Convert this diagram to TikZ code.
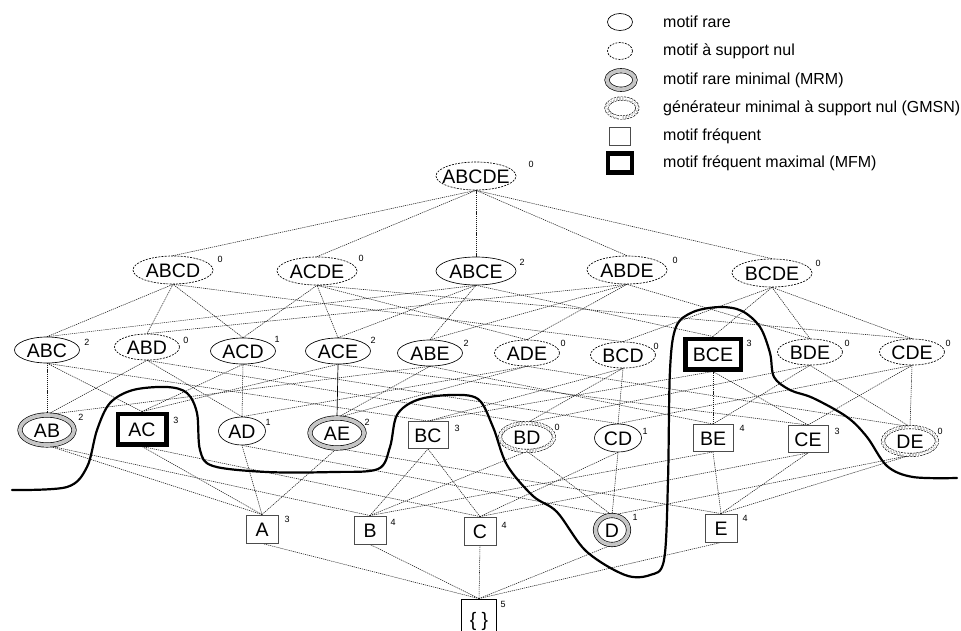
\documentclass[tikz,border=0pt]{standalone}
\usepackage{fontspec}
\setmainfont{Liberation Sans}
\usetikzlibrary{shapes.geometric,backgrounds}
\newcommand{\mylbl}[1]{\makebox[0pt]{\raisebox{-0.36em}[0pt][0pt]{#1}}}
\begin{document}
\begin{tikzpicture}[x=1pt,y=-1pt,
  lat/.style={inner sep=0pt, font=\fontsize{19.5}{19.5}\selectfont},
  rare/.style={lat, ellipse, draw, line width=0.65pt},
  nul/.style={lat, ellipse, draw, line width=0.65pt, dash pattern=on 2pt off 1.2pt},
  mrm/.style={lat, ellipse, draw, line width=0.65pt, double=gray!45, double distance=3.8pt},
  gmsn/.style={lat, ellipse, draw, line width=0.6pt, dash pattern=on 2pt off 1.2pt, double=white, double distance=2.8pt},
  freq/.style={lat, rectangle, draw=black!70, line width=0.9pt},
  mfm/.style={lat, rectangle, draw, line width=4.5pt},
  sz4/.style={minimum width=80pt, minimum height=28pt},
  sz3/.style={minimum width=65pt, minimum height=26pt},
  sz2/.style={minimum width=47pt, minimum height=28pt},
  szm/.style={minimum width=54pt, minimum height=30pt},
  szg/.style={minimum width=54pt, minimum height=28pt},
  szf/.style={minimum width=40pt, minimum height=27pt},
  sz1/.style={minimum width=32pt, minimum height=28pt},
  sup/.style={inner sep=0pt, font=\fontsize{9}{9}\selectfont},
  edge/.style={line width=0.55pt, black!90, dash pattern=on 1.2pt off 0.9pt},
  solidedge/.style={line width=0.7pt, black},
  border/.style={line width=2.2pt, line join=round, line cap=round},
  legt/.style={anchor=west, inner sep=0pt, font=\fontsize{16}{16}\selectfont}
]
\useasboundingbox (0,0) rectangle (961,630);

% ---- level 5
\node[nul,sz4] (ABCDE) at (476,176) {\mylbl{ABCDE}};
\node[sup] (sABCDE) at (531,164) {0};
% ---- level 4
\node[nul,sz4] (ABCD) at (173,270) {\mylbl{ABCD}};
\node[sup] (sABCD) at (220,259) {0};
\node[nul,sz4] (ACDE) at (317,271) {\mylbl{ACDE}};
\node[sup] (sACDE) at (361,258) {0};
\node[rare,sz4] (ABCE) at (476,271) {\mylbl{ABCE}};
\node[sup] (sABCE) at (522,262) {2};
\node[nul,sz4] (ABDE) at (627,270) {\mylbl{ABDE}};
\node[sup] (sABDE) at (675,260) {0};
\node[nul,sz4] (BCDE) at (772,273) {\mylbl{BCDE}};
\node[sup] (sBCDE) at (818,263) {0};
% ---- level 3
\node[rare,sz3] (ABC) at (47,350) {\mylbl{ABC}};
\node[sup] (sABC) at (87,342) {2};
\node[nul,sz3] (ABD) at (147,347) {\mylbl{ABD}};
\node[sup] (sABD) at (186,340) {0};
\node[rare,sz3] (ACD) at (243,351) {\mylbl{ACD}};
\node[sup] (sACD) at (277,339) {1};
\node[rare,sz3] (ACE) at (338,351) {\mylbl{ACE}};
\node[sup] (sACE) at (373,340) {2};
\node[rare,sz3] (ABE) at (430,353) {\mylbl{ABE}};
\node[sup] (sABE) at (466,343) {2};
\node[nul,sz3] (ADE) at (527,353) {\mylbl{ADE}};
\node[sup] (sADE) at (563,343) {0};
\node[nul,sz3] (BCD) at (623,355) {\mylbl{BCD}};
\node[sup] (sBCD) at (656,346) {0};
\node[mfm,minimum width=55.5pt,minimum height=30.5pt] (BCE) at (713,354) {\mylbl{BCE}};
\node[sup] (sBCE) at (749,343) {3};
\node[nul,sz3] (BDE) at (810,352) {\mylbl{BDE}};
\node[sup] (sBDE) at (847,343) {0};
\node[nul,sz3] (CDE) at (912,352) {\mylbl{CDE}};
\node[sup] (sCDE) at (948,343) {0};
% ---- level 2
\node[mrm,szm] (AB) at (47,430) {\mylbl{AB}};
\node[sup] (sAB) at (81,417) {2};
\node[mfm,minimum width=48.5pt,minimum height=30.5pt] (AC) at (142,429) {\mylbl{AC}};
\node[sup] (sAC) at (176,420) {3};
\node[rare,sz2] (AD) at (242,431) {\mylbl{AD}};
\node[sup] (sAD) at (268,422) {1};
\node[mrm,szm] (AE) at (337,433) {\mylbl{AE}};
\node[sup] (sAE) at (367,422) {2};
\node[freq,szf] (BC) at (428,435) {\mylbl{BC}};
\node[sup] (sBC) at (457,428) {3};
\node[gmsn,szg] (BD) at (527,437) {\mylbl{BD}};
\node[sup] (sBD) at (557,427) {0};
\node[rare,sz2] (CD) at (618,438) {\mylbl{CD}};
\node[sup] (sCD) at (645,431) {1};
\node[freq,szf] (BE) at (713,438) {\mylbl{BE}};
\node[sup] (sBE) at (742,428) {4};
\node[freq,szf] (CE) at (808,439) {\mylbl{CE}};
\node[sup] (sCE) at (837,431) {3};
\node[gmsn,szg] (DE) at (910,441) {\mylbl{DE}};
\node[sup] (sDE) at (940,431) {0};
% ---- level 1
\node[freq,sz1] (A) at (262,529) {\mylbl{A}};
\node[sup] (sA) at (287,519) {3};
\node[freq,sz1] (B) at (370,530) {\mylbl{B}};
\node[sup] (sB) at (393,522) {4};
\node[freq,sz1] (C) at (480,531) {\mylbl{C}};
\node[sup] (sC) at (504,525) {4};
\node[mrm,minimum width=33pt,minimum height=29pt] (D) at (612,530) {\mylbl{D}};
\node[sup] (sD) at (635,517) {1};
\node[freq,sz1] (E) at (721,528) {\mylbl{E}};
\node[sup] (sE) at (745,518) {4};
% ---- level 0
\node[freq,draw=black,minimum width=35pt,minimum height=40pt] (EMPTY) at (479,619) {\mylbl{\{ \}}};
\node[sup] (sEMPTY) at (503,604) {5};

% ---- edges
\begin{scope}[on background layer]
\foreach \lo/\hi in {EMPTY/A,EMPTY/B,EMPTY/C,EMPTY/D,EMPTY/E,
  A/AB,A/AC,A/AD,A/AE,B/AB,B/BC,B/BD,B/BE,C/AC,C/BC,C/CD,C/CE,
  D/AD,D/BD,D/CD,D/DE,E/AE,E/BE,E/CE,E/DE,
  AB/ABC,AB/ABD,AB/ABE,AC/ABC,AC/ACD,AC/ACE,AD/ABD,AD/ACD,AD/ADE,
  AE/ABE,AE/ADE,BC/ABC,BC/BCD,BC/BCE,BD/ABD,BD/BCD,BD/BDE,
  BE/ABE,BE/BCE,BE/BDE,CD/ACD,CD/BCD,CD/CDE,CE/ACE,CE/BCE,CE/CDE,
  DE/ADE,DE/BDE,DE/CDE,
  ABC/ABCD,ABC/ABCE,ABD/ABCD,ABD/ABDE,ABE/ABCE,ABE/ABDE,
  ACD/ABCD,ACD/ACDE,ACE/ABCE,ACE/ACDE,ADE/ABDE,ADE/ACDE,
  BCD/ABCD,BCD/BCDE,BCE/ABCE,BCE/BCDE,BDE/ABDE,BDE/BCDE,
  CDE/ACDE,CDE/BCDE,
  ABCD/ABCDE,ACDE/ABCDE,ABCE/ABCDE,ABDE/ABCDE,BCDE/ABCDE}
  \draw[edge] (\lo.north) -- (\hi.south);
\draw[solidedge] (AE.north) -- (ACE.south);
\end{scope}

% ---- border curve
\draw[border] plot[smooth, tension=0.55] coordinates {
 (12,490) (67,487) (87,467) (97,430) (110,403) (133,390) (167,387) (187,393)
 (197,413) (200,450) (213,466) (267,472) (333,472) (378,469) (390,447)
 (397,415) (417,400) (450,395) (478,399) (493,427) (507,465) (533,496)
 (557,512) (586,551) (625,575) (650,575) (664,560) (668,480) (670,370)
 (676,327) (693,312) (720,307) (742,311) (760,327) (770,353) (774,377)
 (790,390) (813,398) (847,417) (867,437) (887,466) (913,477) (957,478)};

% ---- legend
\node[rare,minimum width=25pt,minimum height=17pt] (leg1) at (620,22) {};
\node[legt] (legt1) at (663,22) {motif rare};
\node[nul,minimum width=25pt,minimum height=17pt] (leg2) at (620,51) {};
\node[legt] (legt2) at (663,51) {motif à support nul};
\node[mrm,minimum width=28pt,minimum height=18.5pt] (leg3) at (621,80) {};
\node[legt] (legt3) at (663,80) {motif rare minimal (MRM)};
\node[gmsn,minimum width=31pt,minimum height=19pt] (leg4) at (622,108) {};
\node[legt] (legt4) at (663,108) {générateur minimal à support nul (GMSN)};
\node[freq,minimum width=21pt,minimum height=18pt] (leg5) at (620,136) {};
\node[legt] (legt5) at (663,136) {motif fréquent};
\node[mfm,minimum width=24pt,minimum height=19pt] (leg6) at (620,163) {};
\node[legt] (legt6) at (663,163) {motif fréquent maximal (MFM)};
\end{tikzpicture}
\end{document}
